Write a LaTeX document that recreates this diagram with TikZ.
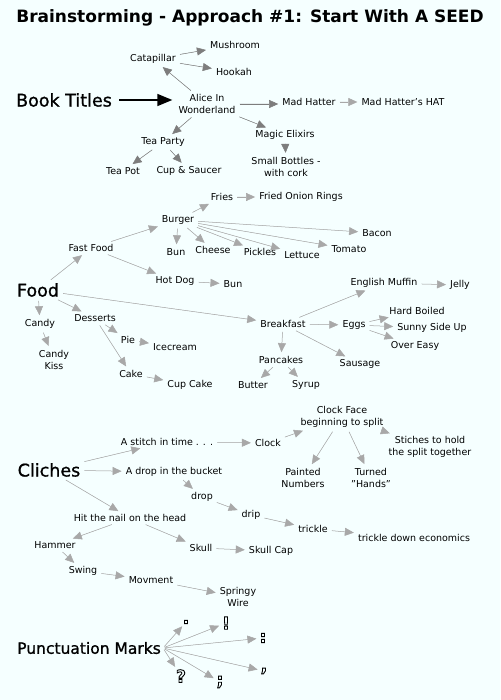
\documentclass[tikz,border=0pt]{standalone}
\usepackage{fontspec}
\setmainfont{DejaVu Sans}
\newfontfamily\hdrfont[FakeBold=1]{DejaVu Sans}
\usetikzlibrary{arrows.meta}
\definecolor{bg}{RGB}{245,255,255}
\definecolor{dg}{RGB}{125,125,125}
\definecolor{lg}{RGB}{168,168,168}
\newcommand{\outl}[1]{\special{pdf:literal direct 1 Tr 0.9 w}#1\special{pdf:literal direct 0 Tr}}
\begin{document}
\begin{tikzpicture}[x=1pt,y=-1pt,
 lbl/.style={font=\fontsize{9.5}{12.5}\selectfont, inner sep=2pt, align=center},
 hdr/.style={font=\hdrfont\fontsize{17.5}{20}\selectfont, inner sep=2pt},
 pmk/.style={font=\fontsize{17}{17}\selectfont\bfseries, inner sep=1pt},
 arr/.style={-{Triangle[length=9pt,width=8pt]}, draw=lg, fill=lg, line width=0.5pt, shorten >=2pt, shorten <=2pt},
 darr/.style={arr, draw=dg, fill=dg},
]
\fill[bg] (0,0) rectangle (500,700);
\useasboundingbox (0,0) rectangle (500,700);

\node[font=\fontsize{17}{20}\selectfont\bfseries] (title) at (250,18) {Brainstorming - Approach \#1: Start With A SEED};

% Book titles
\node[hdr] (book) at (64,100) {Book Titles};
\node[lbl] (alice) at (207,104) {Alice In\\Wonderland};
\node[lbl] (cat) at (153,59) {Catapillar};
\node[lbl] (mush) at (235,45) {Mushroom};
\node[lbl] (hook) at (234,72) {Hookah};
\node[lbl] (mad) at (309,102) {Mad Hatter};
\node[lbl] (hat) at (403,102) {Mad Hatter's HAT};
\node[lbl] (magic) at (285,135) {Magic Elixirs};
\node[lbl] (bottles) at (286,167) {Small Bottles -\\with cork};
\node[lbl] (tea) at (163,142) {Tea Party};
\node[lbl] (pot) at (123,171) {Tea Pot};
\node[lbl] (cup) at (189,171) {Cup \& Saucer};

\draw[-{Triangle[length=15pt,width=12pt]}, line width=1.5pt, shorten <=5pt, shorten >=4pt] (book) -- (alice.west|-book);
\draw[darr] (alice) -- (cat);
\draw[darr] (cat) -- (mush);
\draw[darr] (cat) -- (hook);
\draw[darr] (alice) -- (mad.west|-alice);
\draw[arr] (mad) -- (hat);
\draw[darr] (alice) -- (magic);
\draw[darr] (alice) -- (tea);
\draw[darr] (tea) -- (pot);
\draw[darr] (tea) -- (cup);
\draw[darr] (magic) -- (bottles);

% Food
\node[hdr] (food) at (38,290) {Food};
\node[lbl] (fast) at (91,248) {Fast Food};
\node[lbl] (burger) at (178,220) {Burger};
\node[lbl] (fries) at (222,197) {Fries};
\node[lbl] (onion) at (301,197) {Fried Onion Rings};
\node[lbl] (bacon) at (377,233) {Bacon};
\node[lbl] (bun) at (176,252) {Bun};
\node[lbl] (cheese) at (213,250) {Cheese};
\node[lbl] (pickles) at (260,252) {Pickles};
\node[lbl] (lettuce) at (302,255) {Lettuce};
\node[lbl] (tomato) at (349,249) {Tomato};
\node[lbl] (hotdog) at (175,281) {Hot Dog};
\node[lbl] (bun2) at (233,284) {Bun};
\node[lbl] (muffin) at (384,283) {English Muffin};
\node[lbl] (jelly) at (460,285) {Jelly};
\node[lbl] (candy) at (40,324) {Candy};
\node[lbl] (kiss) at (54,360) {Candy\\Kiss};
\node[lbl] (dess) at (95,318) {Desserts};
\node[lbl] (pie) at (128,340) {Pie};
\node[lbl] (ice) at (175,347) {Icecream};
\node[lbl] (cake) at (131,374) {Cake};
\node[lbl] (cupcake) at (190,385) {Cup Cake};
\node[lbl] (break) at (283,324) {Breakfast};
\node[lbl] (eggs) at (354,325) {Eggs};
\node[lbl] (hard) at (417,311) {Hard Boiled};
\node[lbl] (sunny) at (432,328) {Sunny Side Up};
\node[lbl] (over) at (415,346) {Over Easy};
\node[lbl] (pan) at (281,360) {Pancakes};
\node[lbl] (saus) at (360,364) {Sausage};
\node[lbl] (butter) at (253,385) {Butter};
\node[lbl] (syrup) at (306,385) {Syrup};

\draw[arr] (food) -- (fast);
\draw[arr] (fast) -- (burger);
\draw[arr] (burger) -- (fries);
\draw[arr] (fries) -- (onion);
\draw[arr] (burger) -- (bacon);
\draw[arr] (burger) -- (bun);
\draw[arr] (burger) -- (cheese);
\draw[arr] (burger) -- (pickles);
\draw[arr] (burger) -- (lettuce);
\draw[arr] (burger) -- (tomato);
\draw[arr] (fast) -- (hotdog);
\draw[arr] (hotdog) -- (bun2);
\draw[arr] (muffin) -- (jelly);
\draw[arr] (food) -- (break);
\draw[arr] (food) -- (candy);
\draw[arr] (food) -- (dess);
\draw[arr] (candy) -- (kiss);
\draw[arr] (dess) -- (pie);
\draw[arr] (pie) -- (ice);
\draw[arr] (dess) -- (cake);
\draw[arr] (cake) -- (cupcake);
\draw[arr] (break) -- (muffin);
\draw[arr] (break) -- (eggs);
\draw[arr] (eggs) -- (hard);
\draw[arr] (eggs) -- (sunny);
\draw[arr] (eggs) -- (over);
\draw[arr] (break) -- (pan);
\draw[arr] (break) -- (saus);
\draw[arr] (pan) -- (butter);
\draw[arr] (pan) -- (syrup);

% Cliches
\node[hdr] (cli) at (49,470) {Cliches};
\node[lbl] (stitch) at (167,442) {A stitch in time . . .};
\node[lbl] (clock) at (268,443) {Clock};
\node[lbl] (face) at (342,417) {Clock Face\\beginning to split};
\node[lbl] (stiches) at (430,447) {Stiches to hold\\the split together};
\node[lbl] (painted) at (303,478) {Painted\\Numbers};
\node[lbl] (turned) at (371,478) {Turned\\"Hands"};
\node[lbl] (bucket) at (174,472) {A drop in the bucket};
\node[lbl] (drop) at (202,497) {drop};
\node[lbl] (drip) at (251,515) {drip};
\node[lbl] (trickle) at (313,529) {trickle};
\node[lbl] (econ) at (414,538) {trickle down economics};
\node[lbl] (nail) at (130,518) {Hit the nail on the head};
\node[lbl] (hammer) at (55,545) {Hammer};
\node[lbl] (skull) at (201,548) {Skull};
\node[lbl] (skcap) at (271,551) {Skull Cap};
\node[lbl] (swing) at (83,571) {Swing};
\node[lbl] (mov) at (151,580) {Movment};
\node[lbl] (spring) at (238,597) {Springy\\Wire};

\draw[arr] (cli) -- (stitch);
\draw[arr] (cli) -- (bucket);
\draw[arr] (cli) -- (nail);
\draw[arr] (stitch) -- (clock);
\draw[arr] (clock) -- (face);
\draw[arr] (face) -- (painted);
\draw[arr] (face) -- (turned);
\draw[arr] (face) -- (stiches);
\draw[arr] (bucket) -- (drop);
\draw[arr] (drop) -- (drip);
\draw[arr] (drip) -- (trickle);
\draw[arr] (trickle) -- (econ);
\draw[arr] (nail) -- (hammer);
\draw[arr] (nail) -- (skull);
\draw[arr] (skull) -- (skcap);
\draw[arr] (hammer) -- (swing);
\draw[arr] (swing) -- (mov);
\draw[arr] (mov) -- (spring);

% Punctuation
\node[hdr, font=\hdrfont\fontsize{15.5}{18}\selectfont] (punc) at (89,648) {Punctuation Marks};
\node[pmk] (period) at (186,622) {\outl{.}};
\node[pmk] (excl) at (226,623) {\outl{!}};
\node[pmk] (colon) at (263,638) {\outl{:}};
\node[pmk] (quest) at (181,676) {\outl{?}};
\node[pmk] (semi) at (220,682) {\outl{;}};
\node[pmk] (comma) at (264,671) {\outl{,}};

\draw[arr] (punc.east) -- (period);
\draw[arr] (punc.east) -- (excl);
\draw[arr] (punc.east) -- (colon);
\draw[arr] (punc.east) -- (quest);
\draw[arr] (punc.east) -- (semi);
\draw[arr] (punc.east) -- (comma);
\end{tikzpicture}
\end{document}
